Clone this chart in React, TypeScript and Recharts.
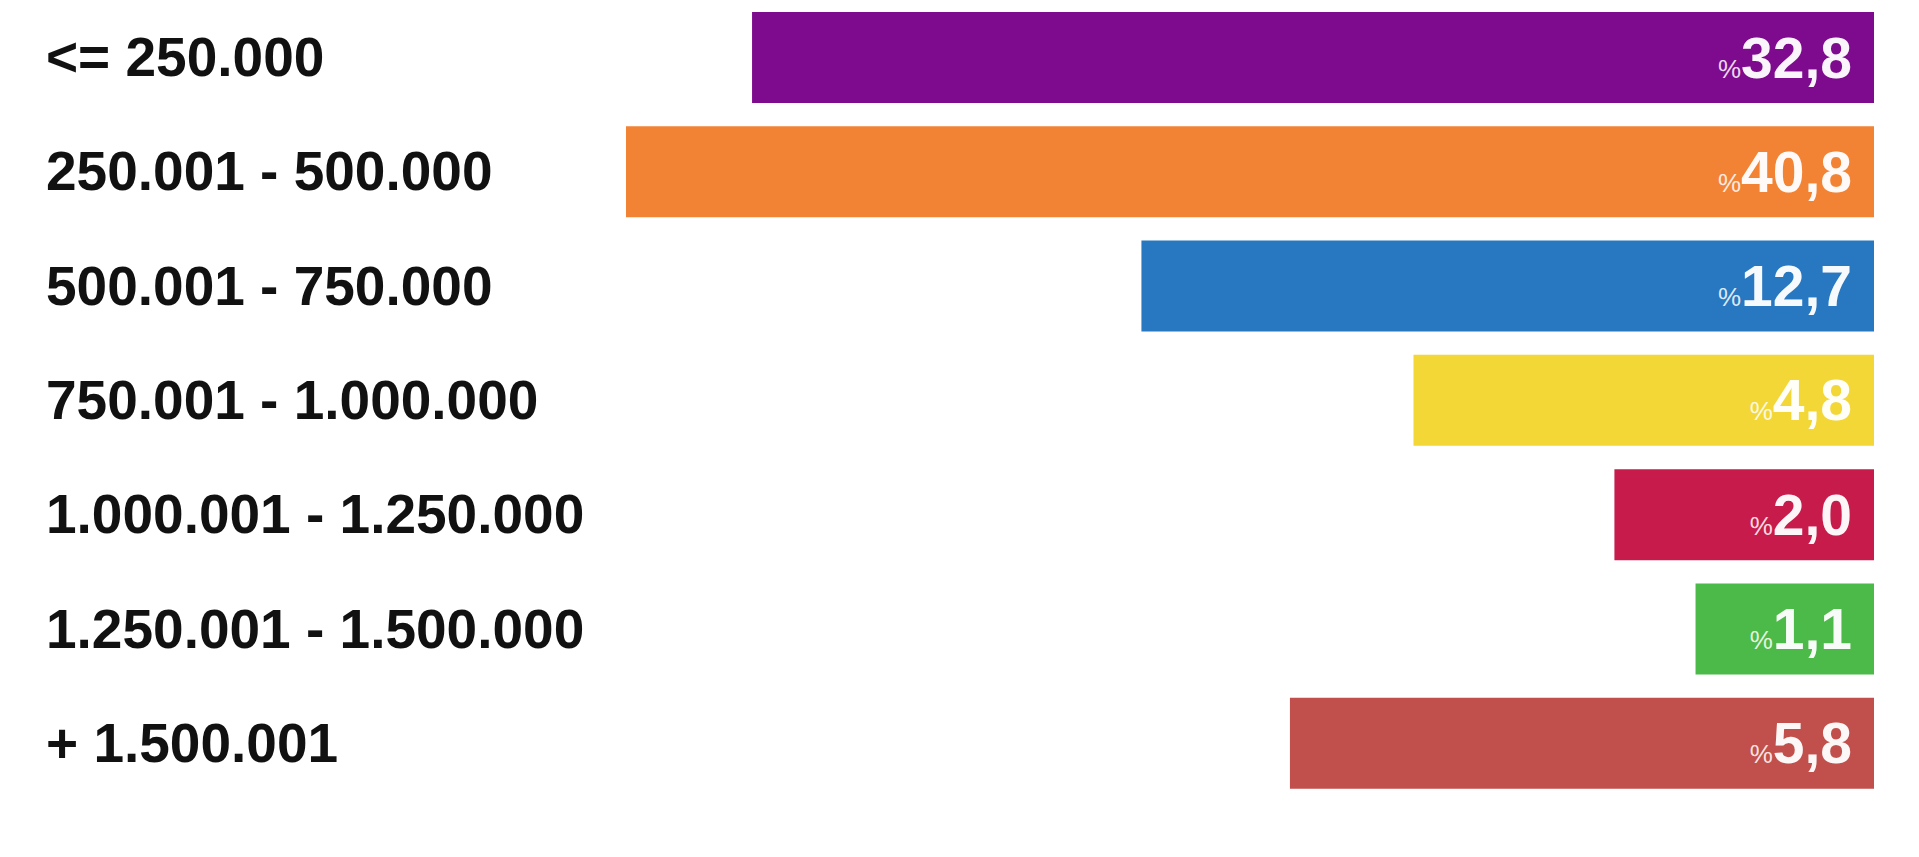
import { Bar, BarChart, Cell, LabelList, XAxis, YAxis } from "recharts";

const categories = [
  "<= 250.000",
  "250.001 - 500.000",
  "500.001 - 750.000",
  "750.001 - 1.000.000",
  "1.000.001 - 1.250.000",
  "1.250.001 - 1.500.000",
  "+ 1.500.001",
];

// share printed on each bar (%)
const shares = [32.8, 40.8, 12.7, 4.8, 2.0, 1.1, 5.8];

// bar lengths as drawn in the graphic (longest bar = 100)
const barLengths = [89.9, 100, 58.7, 36.9, 20.8, 14.3, 46.8];

const colors = ["#7e0a8e", "#f38334", "#2778c1", "#f2d737", "#c71b4b", "#4cba48", "#c14f4b"];

const data = categories.map((name, i) => ({
  name,
  share: shares[i],
  length: barLengths[i],
}));

const FONT = "'Liberation Sans', Arial, Helvetica, sans-serif";

function CategoryTick({ y, payload }: any) {
  return (
    <text x={46} y={y} dy={19} fontSize={55} fontWeight="bold" fontFamily={FONT} fill="#111" textAnchor="start">
      {payload.value}
    </text>
  );
}

function ShareLabel(props: any) {
  const box = props.viewBox && props.viewBox.width !== undefined ? props.viewBox : props;
  const x = Number(box.x);
  const w = Number(box.width);
  const y = Number(box.y);
  const h = Number(box.height);
  const right = Math.max(x, x + w);
  const top = Math.min(y, y + h);
  const v = Number(props.value).toFixed(1).replace(".", ",");
  return (
    <text x={right - 22} y={top + Math.abs(h) / 2 + 20} textAnchor="end" fontFamily={FONT} fill="#fff">
      <tspan fontSize={26} fillOpacity={0.85}>%</tspan>
      <tspan fontSize={57} fontWeight="bold" fillOpacity={0.96}>{v}</tspan>
    </text>
  );
}

export default function App() {
  return (
    <div style={{ position: "absolute", left: 0, top: 0, background: "#fff" }}>
      <BarChart
        width={1900}
        height={857}
        data={data}
        layout="vertical"
        margin={{ top: 0, right: 26, left: 0, bottom: 57 }}
      >
        <XAxis type="number" dataKey="length" domain={[0, 100]} reversed hide />
        <YAxis
          type="category"
          dataKey="name"
          width={626}
          axisLine={false}
          tickLine={false}
          tick={<CategoryTick />}
          interval={0}
        />
        <Bar dataKey="length" barSize={91} isAnimationActive={false}>
          {data.map((d, i) => (
            <Cell key={d.name} fill={colors[i]} />
          ))}
          <LabelList dataKey="share" content={<ShareLabel />} />
        </Bar>
      </BarChart>
    </div>
  );
}
